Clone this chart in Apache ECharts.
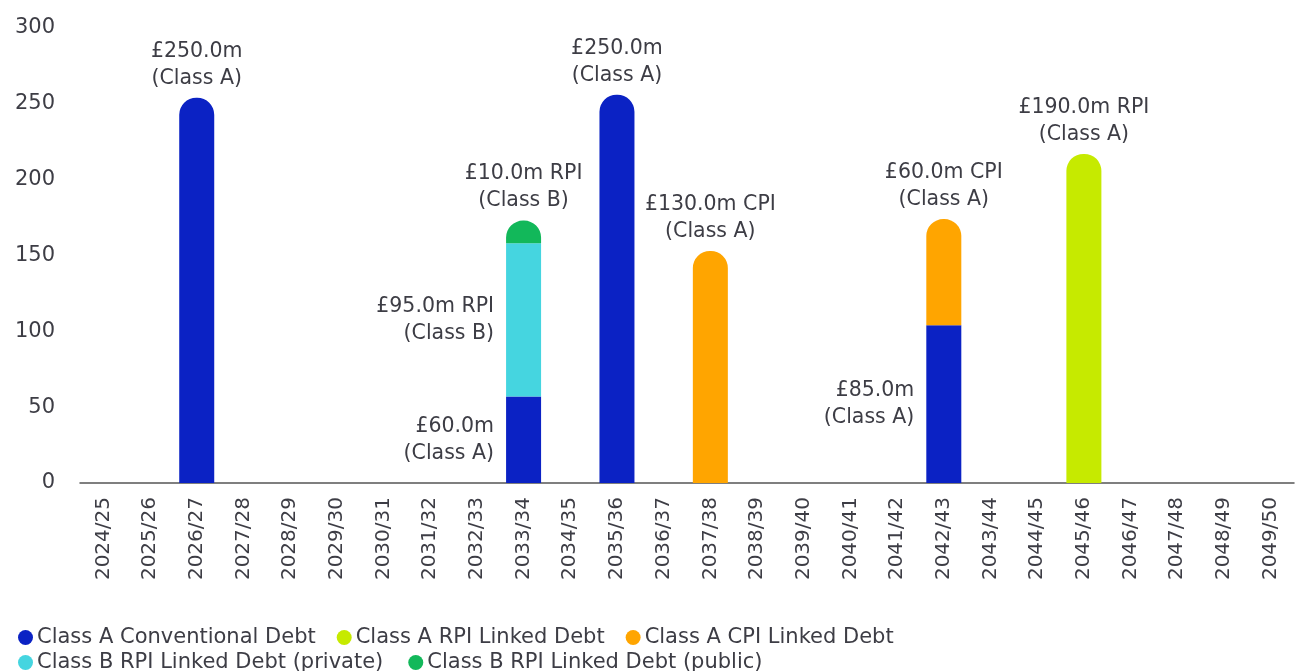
<!DOCTYPE html>
<html>
<head>
<meta charset="utf-8">
<script src="https://cdn.jsdelivr.net/npm/echarts@6/dist/echarts.min.js"></script>
<style>
  html, body { margin: 0; padding: 0; background: #fff; }
  #chart { width: 1296px; height: 671px; }
</style>
</head>
<body>
<div id="chart"></div>
<script>
// years of maturity
const years = ['2024/25','2025/26','2026/27','2027/28','2028/29','2029/30','2030/31','2031/32','2032/33',
  '2033/34','2034/35','2035/36','2036/37','2037/38','2038/39','2039/40','2040/41','2041/42','2042/43',
  '2043/44','2044/45','2045/46','2046/47','2047/48','2048/49','2049/50']

// bar heights as drawn
const conventionalA = { '2026/27': 254, '2033/34': 57, '2035/36': 256, '2042/43': 104 }
const rpiA = { '2045/46': 217 }
const cpiA = { '2037/38': 153, '2042/43': 70 }
const rpiBPrivate = { '2033/34': 101 }
const rpiBPublic = { '2033/34': 15 }

// label texts
const conventionalALabels = { '2026/27': '£250.0m\n(Class A)', '2033/34': '£60.0m\n(Class A)', '2035/36': '£250.0m\n(Class A)', '2042/43': '£85.0m\n(Class A)' }
const rpiALabels = { '2045/46': '£190.0m RPI\n(Class A)' }
const cpiALabels = { '2037/38': '£130.0m CPI\n(Class A)', '2042/43': '£60.0m CPI\n(Class A)' }
const rpiBPrivateLabels = { '2033/34': '£95.0m RPI\n(Class B)' }
const rpiBPublicLabels = { '2033/34': '£10.0m RPI\n(Class B)' }

const names = ['Class A Conventional Debt', 'Class A RPI Linked Debt', 'Class A CPI Linked Debt',
  'Class B RPI Linked Debt (private)', 'Class B RPI Linked Debt (public)']
const colors = ['#0b22c4', '#c6ea00', '#ffa500', '#45d5e0', '#12b85a']

const txt = '#3d3d45'
const font = 'DejaVu Sans'
const R = 17

const sets = [conventionalA, rpiA, cpiA, rpiBPrivate, rpiBPublic]
const labelSets = [conventionalALabels, rpiALabels, cpiALabels, rpiBPrivateLabels, rpiBPublicLabels]

// top of its stack -> rounded cap + label above, otherwise label on the left
function isTop(si, y) {
  for (let j = si + 1; j < sets.length; j++) {
    if (sets[j][y] != null) return false
  }
  return true
}

function makeData(si) {
  return years.map(y => {
    const v = sets[si][y]
    if (v == null) return null
    const top = isTop(si, y)
    return {
      value: v,
      itemStyle: { borderRadius: top ? [R, R, 0, 0] : 0 },
      label: {
        show: true,
        position: top ? 'top' : 'left',
        distance: top ? 6 : 12,
        align: top ? 'center' : 'right',
        formatter: labelSets[si][y]
      }
    }
  })
}

const series = names.map((n, i) => ({
  name: n,
  type: 'bar',
  stack: 'debt',
  barWidth: 35,
  itemStyle: { color: colors[i] },
  label: {
    color: txt,
    fontFamily: font,
    fontSize: 20.5,
    lineHeight: 27
  },
  data: makeData(i)
}))

const legendText = { color: txt, fontFamily: font, fontSize: 21, padding: [0, 0, 0, -1] }

const chart = echarts.init(document.getElementById('chart'))
chart.setOption({
  animation: false,
  grid: { left: 80, right: 2, top: 28, bottom: 188 },
  legend: [
    {
      data: names.slice(0, 3),
      left: 13, top: 622,
      icon: 'circle', itemWidth: 15, itemHeight: 15, itemGap: 21,
      textStyle: legendText
    },
    {
      data: names.slice(3),
      left: 13, top: 647,
      icon: 'circle', itemWidth: 15, itemHeight: 15, itemGap: 25,
      textStyle: legendText
    }
  ],
  xAxis: {
    type: 'category',
    data: years,
    axisLine: { lineStyle: { color: '#555', width: 1.5 } },
    axisTick: { show: false },
    axisLabel: { rotate: 90, color: txt, fontFamily: font, fontSize: 20, margin: 14 }
  },
  yAxis: {
    type: 'value',
    min: 0, max: 300, interval: 50,
    splitLine: { show: false },
    axisLine: { show: false },
    axisLabel: { color: txt, fontFamily: font, fontSize: 21, margin: 25 }
  },
  series: series
})
</script>
</body>
</html>
